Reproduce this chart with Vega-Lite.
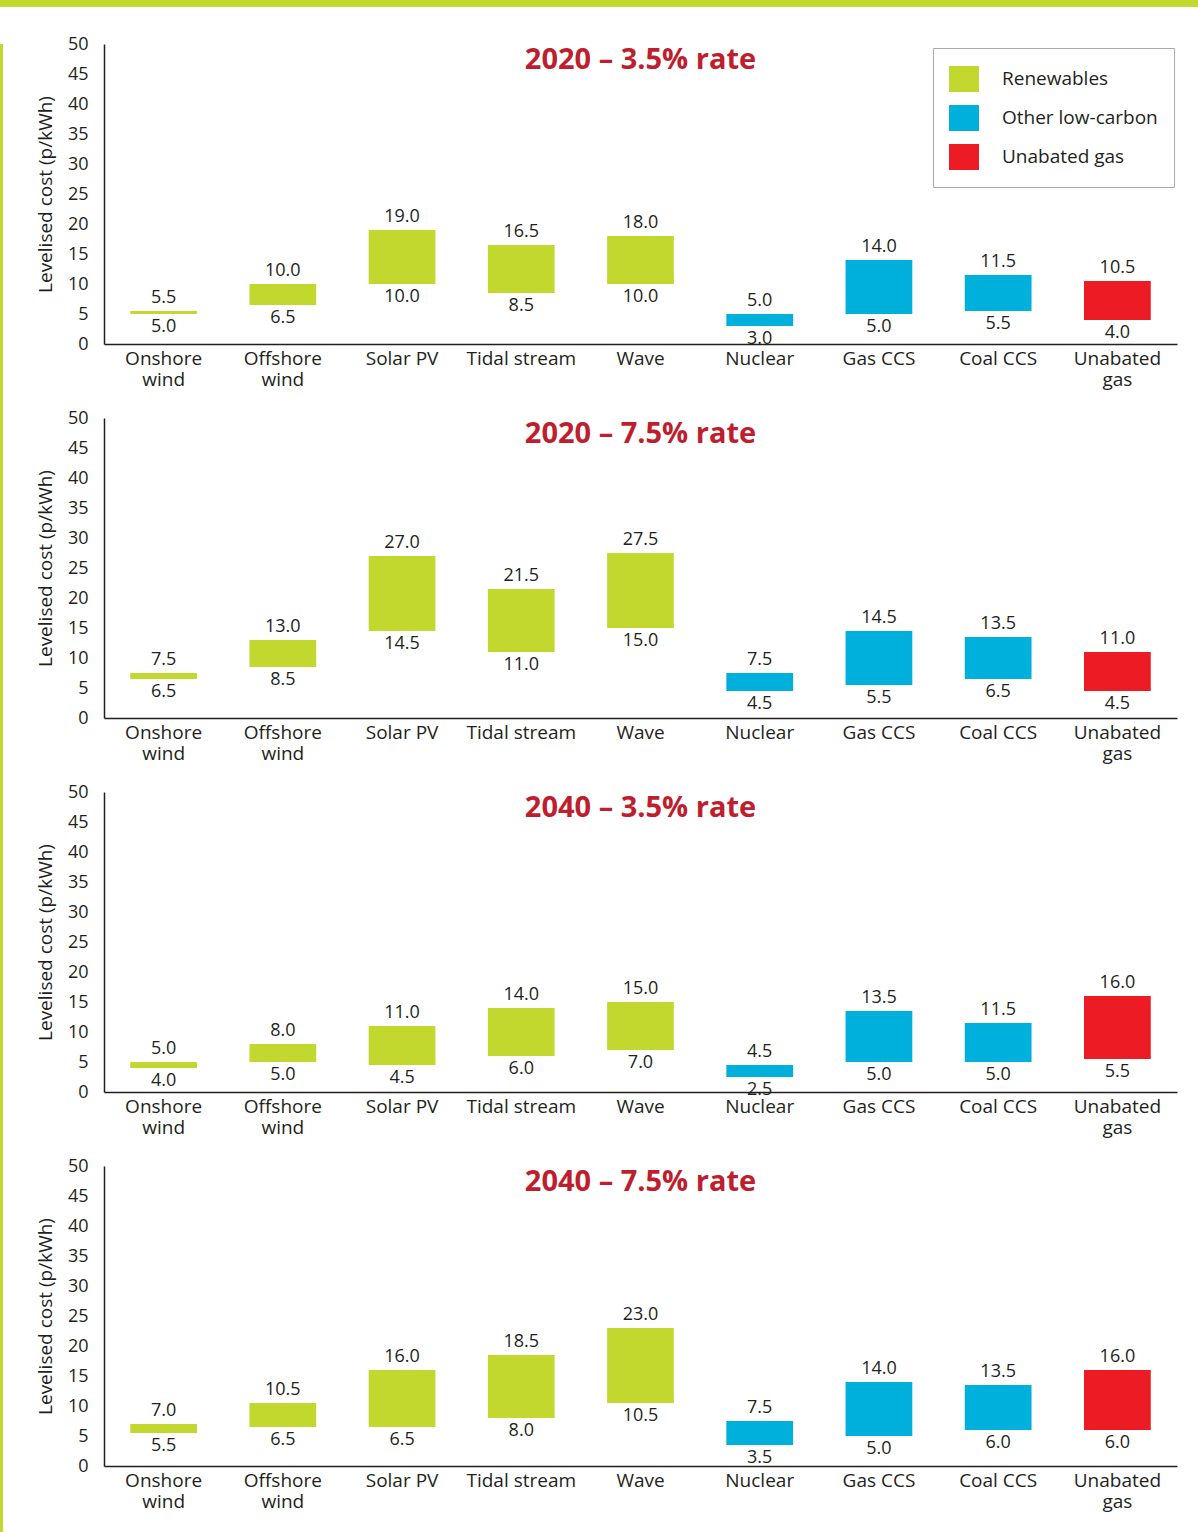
{
  "$schema": "https://vega.github.io/schema/vega-lite/v6.json",
  "background": "white",
  "padding": 0,
  "bounds": "flush",
  "spacing": 37,
  "config": {
    "font": "Open Sans",
    "view": {"stroke": null},
    "axis": {"domainColor": "#231f20", "domainWidth": 1.5, "ticks": false, "tickSize": 0, "grid": false, "labelColor": "#231f20", "titleColor": "#231f20"},
    "axisY": {"labelFontSize": 18, "labelPadding": 16, "titleFontSize": 19, "titleFontWeight": "normal", "titlePadding": 12, "values": [0,5,10,15,20,25,30,35,40,45,50]},
    "axisX": {"labelFontSize": 19, "labelAngle": 0, "labelPadding": 5, "labelLineHeight": 21, "labelBaseline": "top", "title": null},
    "title": {"fontSize": 29, "fontWeight": "bold", "color": "#BE1E2D", "anchor": "middle", "baseline": "top", "offset": -8, "dy": 32},
    "text": {"color": "#231f20", "fontSize": 18}
  },
  "datasets": {
    "costs": [
      {"panel": "2020 – 3.5% rate", "technology": "Onshore wind", "type": "Renewables", "low": 5.0, "high": 5.5},
      {"panel": "2020 – 3.5% rate", "technology": "Offshore wind", "type": "Renewables", "low": 6.5, "high": 10.0},
      {"panel": "2020 – 3.5% rate", "technology": "Solar PV", "type": "Renewables", "low": 10.0, "high": 19.0},
      {"panel": "2020 – 3.5% rate", "technology": "Tidal stream", "type": "Renewables", "low": 8.5, "high": 16.5},
      {"panel": "2020 – 3.5% rate", "technology": "Wave", "type": "Renewables", "low": 10.0, "high": 18.0},
      {"panel": "2020 – 3.5% rate", "technology": "Nuclear", "type": "Other low-carbon", "low": 3.0, "high": 5.0},
      {"panel": "2020 – 3.5% rate", "technology": "Gas CCS", "type": "Other low-carbon", "low": 5.0, "high": 14.0},
      {"panel": "2020 – 3.5% rate", "technology": "Coal CCS", "type": "Other low-carbon", "low": 5.5, "high": 11.5},
      {"panel": "2020 – 3.5% rate", "technology": "Unabated gas", "type": "Unabated gas", "low": 4.0, "high": 10.5},
      {"panel": "2020 – 7.5% rate", "technology": "Onshore wind", "type": "Renewables", "low": 6.5, "high": 7.5},
      {"panel": "2020 – 7.5% rate", "technology": "Offshore wind", "type": "Renewables", "low": 8.5, "high": 13.0},
      {"panel": "2020 – 7.5% rate", "technology": "Solar PV", "type": "Renewables", "low": 14.5, "high": 27.0},
      {"panel": "2020 – 7.5% rate", "technology": "Tidal stream", "type": "Renewables", "low": 11.0, "high": 21.5},
      {"panel": "2020 – 7.5% rate", "technology": "Wave", "type": "Renewables", "low": 15.0, "high": 27.5},
      {"panel": "2020 – 7.5% rate", "technology": "Nuclear", "type": "Other low-carbon", "low": 4.5, "high": 7.5},
      {"panel": "2020 – 7.5% rate", "technology": "Gas CCS", "type": "Other low-carbon", "low": 5.5, "high": 14.5},
      {"panel": "2020 – 7.5% rate", "technology": "Coal CCS", "type": "Other low-carbon", "low": 6.5, "high": 13.5},
      {"panel": "2020 – 7.5% rate", "technology": "Unabated gas", "type": "Unabated gas", "low": 4.5, "high": 11.0},
      {"panel": "2040 – 3.5% rate", "technology": "Onshore wind", "type": "Renewables", "low": 4.0, "high": 5.0},
      {"panel": "2040 – 3.5% rate", "technology": "Offshore wind", "type": "Renewables", "low": 5.0, "high": 8.0},
      {"panel": "2040 – 3.5% rate", "technology": "Solar PV", "type": "Renewables", "low": 4.5, "high": 11.0},
      {"panel": "2040 – 3.5% rate", "technology": "Tidal stream", "type": "Renewables", "low": 6.0, "high": 14.0},
      {"panel": "2040 – 3.5% rate", "technology": "Wave", "type": "Renewables", "low": 7.0, "high": 15.0},
      {"panel": "2040 – 3.5% rate", "technology": "Nuclear", "type": "Other low-carbon", "low": 2.5, "high": 4.5},
      {"panel": "2040 – 3.5% rate", "technology": "Gas CCS", "type": "Other low-carbon", "low": 5.0, "high": 13.5},
      {"panel": "2040 – 3.5% rate", "technology": "Coal CCS", "type": "Other low-carbon", "low": 5.0, "high": 11.5},
      {"panel": "2040 – 3.5% rate", "technology": "Unabated gas", "type": "Unabated gas", "low": 5.5, "high": 16.0},
      {"panel": "2040 – 7.5% rate", "technology": "Onshore wind", "type": "Renewables", "low": 5.5, "high": 7.0},
      {"panel": "2040 – 7.5% rate", "technology": "Offshore wind", "type": "Renewables", "low": 6.5, "high": 10.5},
      {"panel": "2040 – 7.5% rate", "technology": "Solar PV", "type": "Renewables", "low": 6.5, "high": 16.0},
      {"panel": "2040 – 7.5% rate", "technology": "Tidal stream", "type": "Renewables", "low": 8.0, "high": 18.5},
      {"panel": "2040 – 7.5% rate", "technology": "Wave", "type": "Renewables", "low": 10.5, "high": 23.0},
      {"panel": "2040 – 7.5% rate", "technology": "Nuclear", "type": "Other low-carbon", "low": 3.5, "high": 7.5},
      {"panel": "2040 – 7.5% rate", "technology": "Gas CCS", "type": "Other low-carbon", "low": 5.0, "high": 14.0},
      {"panel": "2040 – 7.5% rate", "technology": "Coal CCS", "type": "Other low-carbon", "low": 6.0, "high": 13.5},
      {"panel": "2040 – 7.5% rate", "technology": "Unabated gas", "type": "Unabated gas", "low": 6.0, "high": 16.0}
    ]
  },
  "resolve": {"scale": {"color": "independent"}, "legend": {"color": "independent"}},
  "vconcat": [
    {
      "width": 1198, "height": 7,
      "view": {"fill": "#C3D82F", "stroke": null},
      "data": {"values": [{}]},
      "mark": {"type": "point", "opacity": 0, "size": 1},
      "encoding": {}
    },
    {
      "bounds": "flush",
      "spacing": 101,
      "resolve": {"scale": {"color": "independent"}, "legend": {"color": "independent"}},
      "hconcat": [
        {
          "width": 3, "height": 1488,
          "view": {"fill": "#C3D82F", "stroke": null},
          "data": {"values": [{}]},
          "mark": {"type": "point", "opacity": 0, "size": 1},
          "encoding": {}
        },
        {
          "bounds": "flush",
          "spacing": 74,
          "resolve": {"scale": {"color": "independent"}, "legend": {"color": "independent"}},
          "vconcat": [
            {
              "width": 1073, "height": 300,
              "title": "2020 – 3.5% rate",
              "data": {"name": "costs"},
              "transform": [{"filter": "datum.panel == '2020 – 3.5% rate'"}],
              "encoding": {
                "x": {"field": "technology", "type": "nominal", "sort": null,
                  "scale": {"domain": ["Onshore wind","Offshore wind","Solar PV","Tidal stream","Wave","Nuclear","Gas CCS","Coal CCS","Unabated gas"], "paddingInner": 0.44, "paddingOuter": 0.22},
                  "axis": {"labelExpr": "indexof(['Onshore wind','Offshore wind','Unabated gas'], datum.label) >= 0 ? split(datum.label, ' ') : datum.label"}}
              },
              "layer": [
                {"mark": {"type": "bar"},
                 "encoding": {
                   "y": {"field": "low", "type": "quantitative", "title": "Levelised cost (p/kWh)", "scale": {"domain": [0, 50]}},
                   "y2": {"field": "high"},
                   "color": {"field": "type", "type": "nominal",
                     "scale": {"domain": ["Renewables", "Other low-carbon", "Unabated gas"], "range": ["#C3D82F", "#00B0DC", "#ED1C24"]},
                     "legend": {"title": null, "orient": "none", "legendX": 829, "legendY": 4, "direction": "vertical",
                       "symbolType": "M-1,-0.867H1V0.867H-1Z", "symbolSize": 900, "symbolStrokeWidth": 0,
                       "labelFontSize": 19, "labelColor": "#231f20", "labelOffset": 23, "rowPadding": 10,
                       "padding": 16, "strokeColor": "#aaaaaa", "fillColor": "white", "labelLimit": 300}}
                 }},
                {"mark": {"type": "text", "baseline": "alphabetic", "dy": -8},
                 "encoding": {"y": {"field": "high", "type": "quantitative", "title": "Levelised cost (p/kWh)"}, "text": {"field": "high", "type": "quantitative", "format": ".1f"}}},
                {"mark": {"type": "text", "baseline": "top", "dy": 4},
                 "encoding": {"y": {"field": "low", "type": "quantitative", "title": "Levelised cost (p/kWh)"}, "text": {"field": "low", "type": "quantitative", "format": ".1f"}}}
              ]
            },
            {
              "width": 1073, "height": 300,
              "title": "2020 – 7.5% rate",
              "data": {"name": "costs"},
              "transform": [{"filter": "datum.panel == '2020 – 7.5% rate'"}],
              "encoding": {
                "x": {"field": "technology", "type": "nominal", "sort": null,
                  "scale": {"domain": ["Onshore wind","Offshore wind","Solar PV","Tidal stream","Wave","Nuclear","Gas CCS","Coal CCS","Unabated gas"], "paddingInner": 0.44, "paddingOuter": 0.22},
                  "axis": {"labelExpr": "indexof(['Onshore wind','Offshore wind','Unabated gas'], datum.label) >= 0 ? split(datum.label, ' ') : datum.label"}}
              },
              "layer": [
                {"mark": {"type": "bar"},
                 "encoding": {
                   "y": {"field": "low", "type": "quantitative", "title": "Levelised cost (p/kWh)", "scale": {"domain": [0, 50]}},
                   "y2": {"field": "high"},
                   "color": {"field": "type", "type": "nominal",
                     "scale": {"domain": ["Renewables", "Other low-carbon", "Unabated gas"], "range": ["#C3D82F", "#00B0DC", "#ED1C24"]},
                     "legend": null}
                 }},
                {"mark": {"type": "text", "baseline": "alphabetic", "dy": -8},
                 "encoding": {"y": {"field": "high", "type": "quantitative", "title": "Levelised cost (p/kWh)"}, "text": {"field": "high", "type": "quantitative", "format": ".1f"}}},
                {"mark": {"type": "text", "baseline": "top", "dy": 4},
                 "encoding": {"y": {"field": "low", "type": "quantitative", "title": "Levelised cost (p/kWh)"}, "text": {"field": "low", "type": "quantitative", "format": ".1f"}}}
              ]
            },
            {
              "width": 1073, "height": 300,
              "title": "2040 – 3.5% rate",
              "data": {"name": "costs"},
              "transform": [{"filter": "datum.panel == '2040 – 3.5% rate'"}],
              "encoding": {
                "x": {"field": "technology", "type": "nominal", "sort": null,
                  "scale": {"domain": ["Onshore wind","Offshore wind","Solar PV","Tidal stream","Wave","Nuclear","Gas CCS","Coal CCS","Unabated gas"], "paddingInner": 0.44, "paddingOuter": 0.22},
                  "axis": {"labelExpr": "indexof(['Onshore wind','Offshore wind','Unabated gas'], datum.label) >= 0 ? split(datum.label, ' ') : datum.label"}}
              },
              "layer": [
                {"mark": {"type": "bar"},
                 "encoding": {
                   "y": {"field": "low", "type": "quantitative", "title": "Levelised cost (p/kWh)", "scale": {"domain": [0, 50]}},
                   "y2": {"field": "high"},
                   "color": {"field": "type", "type": "nominal",
                     "scale": {"domain": ["Renewables", "Other low-carbon", "Unabated gas"], "range": ["#C3D82F", "#00B0DC", "#ED1C24"]},
                     "legend": null}
                 }},
                {"mark": {"type": "text", "baseline": "alphabetic", "dy": -8},
                 "encoding": {"y": {"field": "high", "type": "quantitative", "title": "Levelised cost (p/kWh)"}, "text": {"field": "high", "type": "quantitative", "format": ".1f"}}},
                {"mark": {"type": "text", "baseline": "top", "dy": 4},
                 "encoding": {"y": {"field": "low", "type": "quantitative", "title": "Levelised cost (p/kWh)"}, "text": {"field": "low", "type": "quantitative", "format": ".1f"}}}
              ]
            },
            {
              "width": 1073, "height": 300,
              "title": "2040 – 7.5% rate",
              "data": {"name": "costs"},
              "transform": [{"filter": "datum.panel == '2040 – 7.5% rate'"}],
              "encoding": {
                "x": {"field": "technology", "type": "nominal", "sort": null,
                  "scale": {"domain": ["Onshore wind","Offshore wind","Solar PV","Tidal stream","Wave","Nuclear","Gas CCS","Coal CCS","Unabated gas"], "paddingInner": 0.44, "paddingOuter": 0.22},
                  "axis": {"labelExpr": "indexof(['Onshore wind','Offshore wind','Unabated gas'], datum.label) >= 0 ? split(datum.label, ' ') : datum.label"}}
              },
              "layer": [
                {"mark": {"type": "bar"},
                 "encoding": {
                   "y": {"field": "low", "type": "quantitative", "title": "Levelised cost (p/kWh)", "scale": {"domain": [0, 50]}},
                   "y2": {"field": "high"},
                   "color": {"field": "type", "type": "nominal",
                     "scale": {"domain": ["Renewables", "Other low-carbon", "Unabated gas"], "range": ["#C3D82F", "#00B0DC", "#ED1C24"]},
                     "legend": null}
                 }},
                {"mark": {"type": "text", "baseline": "alphabetic", "dy": -8},
                 "encoding": {"y": {"field": "high", "type": "quantitative", "title": "Levelised cost (p/kWh)"}, "text": {"field": "high", "type": "quantitative", "format": ".1f"}}},
                {"mark": {"type": "text", "baseline": "top", "dy": 4},
                 "encoding": {"y": {"field": "low", "type": "quantitative", "title": "Levelised cost (p/kWh)"}, "text": {"field": "low", "type": "quantitative", "format": ".1f"}}}
              ]
            }
          ]
        }
      ]
    }
  ]
}
